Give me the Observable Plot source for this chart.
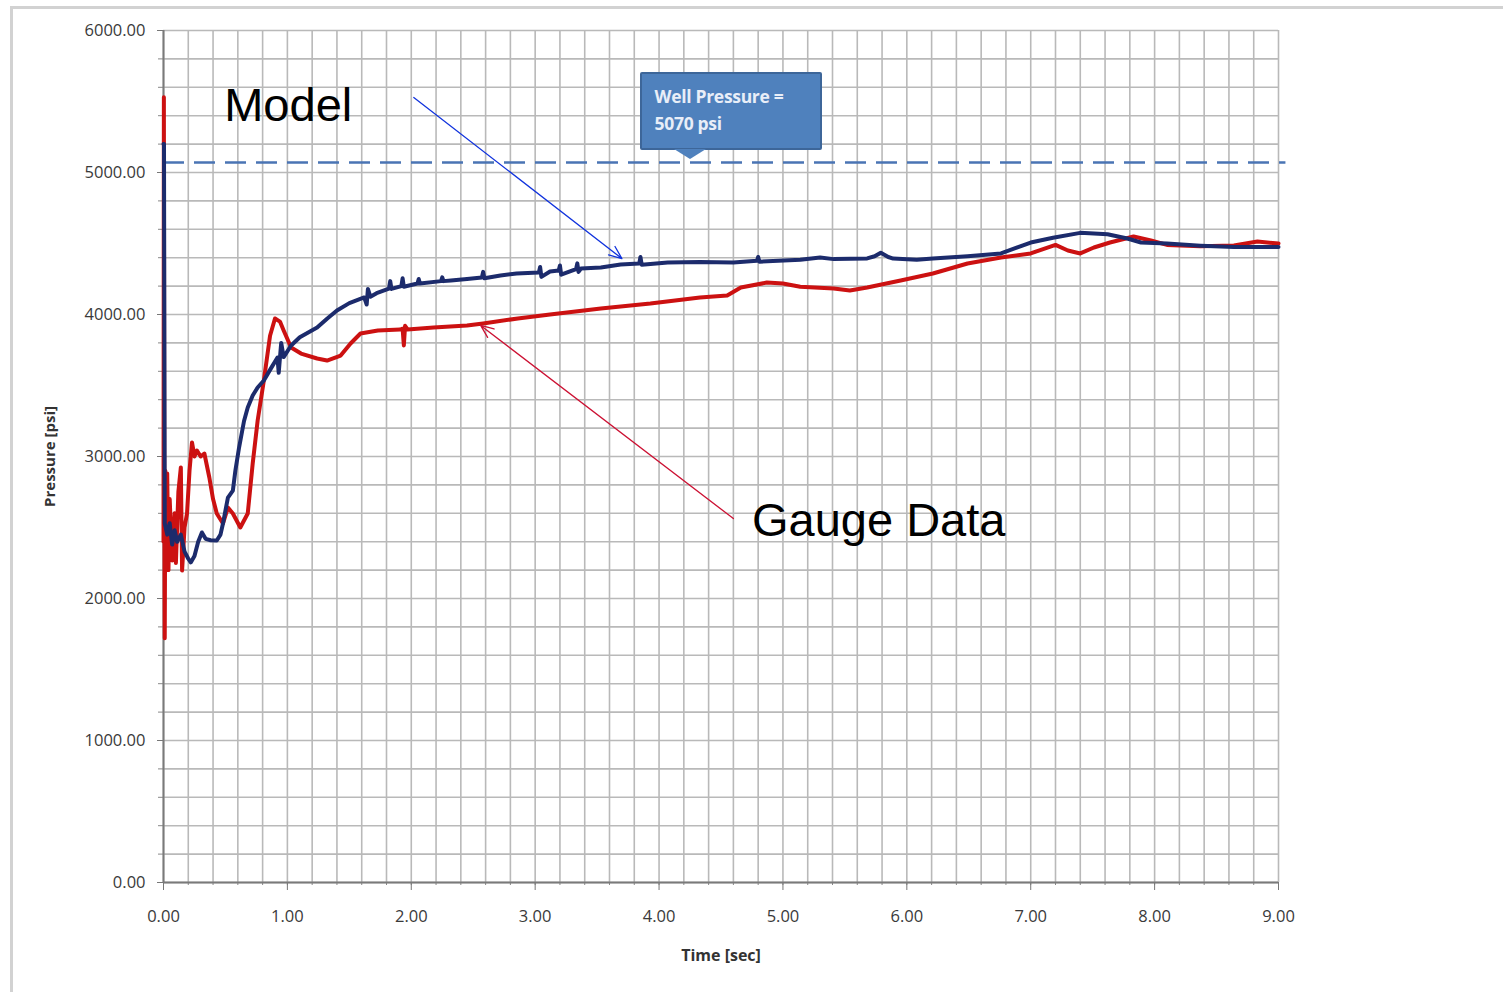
<!DOCTYPE html>
<html>
<head>
<meta charset="utf-8">
<script src="https://cdn.jsdelivr.net/npm/d3@7"></script>
<script src="https://cdn.jsdelivr.net/npm/@observablehq/plot@0.6"></script>
<style>
  html, body { margin: 0; padding: 0; background: #fff; overflow: hidden; }
  #wrap { position: relative; width: 1503px; height: 992px; }
  #frame { position: absolute; left: 10px; top: 6px; width: 1600px; height: 1100px;
           border-top: 3px solid #d2d2d2; border-left: 3px solid #d2d2d2; pointer-events: none; }
  #callout { position: absolute; box-sizing: border-box; background: #4f81bd; border: 2px solid #3d6699;
             border-radius: 2px; color: #e8eef8; font-family: "Open Sans", sans-serif; font-weight: 700;
             font-size: 17.5px; line-height: 27px; padding: 9px 0 0 13px; letter-spacing: -0.3px; }
  #pointer { position: absolute; width: 0; height: 0; border-left: 16px solid transparent;
             border-right: 16px solid transparent; border-top: 10px solid #4f81bd; }
</style>
</head>
<body>
<div id="wrap"><div id="frame"></div></div>
<script>
// ---------- data ----------
const xTickValues = [0, 1, 2, 3, 4, 5, 6, 7, 8, 9];
const yTickValues = [0, 1000, 2000, 3000, 4000, 5000, 6000];
const xAxisLabel = "Time [sec]";
const yAxisLabel = "Pressure [psi]";
const wellPressure = 5070;
const calloutLines = ["Well Pressure =", "5070 psi"];

// Model series (time s, pressure psi)
const modelTime = [0, 0.004, 0.01, 0.03, 0.05, 0.07, 0.09, 0.11, 0.14, 0.17, 0.2, 0.22, 0.25, 0.28, 0.31, 0.34, 0.38, 0.43, 0.46, 0.48, 0.52, 0.56, 0.58, 0.61, 0.65, 0.68, 0.72, 0.76, 0.81, 0.86, 0.92, 0.93, 0.95, 0.97, 1.03, 1.1, 1.24, 1.32, 1.4, 1.5, 1.62, 1.64, 1.65, 1.67, 1.72, 1.82, 1.83, 1.84, 1.92, 1.93, 1.94, 2.05, 2.06, 2.07, 2.24, 2.25, 2.26, 2.32, 2.45, 2.57, 2.58, 2.59, 2.72, 2.85, 3.03, 3.04, 3.05, 3.12, 3.19, 3.2, 3.21, 3.33, 3.34, 3.35, 3.37, 3.53, 3.69, 3.84, 3.85, 3.86, 4.07, 4.33, 4.6, 4.79, 4.8, 4.81, 5.14, 5.3, 5.41, 5.68, 5.74, 5.79, 5.85, 5.89, 6.08, 6.21, 6.49, 6.76, 7.0, 7.18, 7.4, 7.62, 7.78, 7.89, 8.1, 8.37, 8.64, 9.0];
const modelPressure = [5200, 5200, 2530, 2450, 2530, 2380, 2480, 2400, 2450, 2330, 2280, 2254, 2300, 2400, 2465, 2420, 2410, 2408, 2450, 2528, 2711, 2760, 2900, 3063, 3250, 3345, 3430, 3486, 3535, 3610, 3697, 3590, 3800, 3700, 3782, 3840, 3908, 3970, 4028, 4080, 4120, 4070, 4180, 4125, 4150, 4183, 4235, 4180, 4200, 4255, 4195, 4218, 4250, 4218, 4235, 4262, 4235, 4239, 4250, 4261, 4300, 4255, 4275, 4289, 4296, 4335, 4265, 4303, 4310, 4345, 4280, 4320, 4360, 4300, 4324, 4331, 4352, 4359, 4405, 4350, 4366, 4370, 4366, 4378, 4405, 4372, 4385, 4401, 4390, 4395, 4410, 4435, 4405, 4394, 4385, 4394, 4410, 4430, 4507, 4540, 4575, 4565, 4535, 4507, 4500, 4485, 4475, 4475];

// Gauge data series (time s, pressure psi)
const gaugeTime = [0, 0.003, 0.006, 0.01, 0.015, 0.02, 0.03, 0.04, 0.05, 0.07, 0.09, 0.1, 0.12, 0.14, 0.15, 0.17, 0.19, 0.21, 0.23, 0.25, 0.27, 0.3, 0.33, 0.37, 0.4, 0.43, 0.48, 0.52, 0.56, 0.62, 0.68, 0.72, 0.76, 0.81, 0.86, 0.9, 0.94, 0.97, 1.03, 1.11, 1.24, 1.32, 1.43, 1.51, 1.59, 1.73, 1.91, 1.93, 1.94, 1.95, 1.97, 2.18, 2.45, 2.58, 2.86, 3.12, 3.53, 3.93, 4.33, 4.55, 4.66, 4.87, 5.0, 5.14, 5.41, 5.54, 5.68, 5.95, 6.21, 6.49, 6.76, 7.0, 7.2, 7.3, 7.4, 7.51, 7.64, 7.83, 7.97, 8.1, 8.37, 8.64, 8.83, 9.0];
const gaugePressure = [2400, 5530, 3000, 1720, 2900, 2350, 2880, 2200, 2700, 2268, 2600, 2250, 2750, 2923, 2197, 2500, 2599, 2900, 3099, 3000, 3042, 3000, 3021, 2852, 2700, 2599, 2528, 2640, 2599, 2500, 2599, 2951, 3254, 3535, 3850, 3972, 3950, 3887, 3768, 3725, 3690, 3676, 3711, 3796, 3866, 3887, 3894, 3900, 3782, 3920, 3895, 3908, 3922, 3937, 3972, 4000, 4042, 4077, 4120, 4134, 4190, 4225, 4218, 4195, 4183, 4169, 4190, 4239, 4289, 4359, 4401, 4430, 4490, 4451, 4430, 4472, 4507, 4549, 4521, 4490, 4480, 4486, 4514, 4500];

// Annotation labels and arrows (data units)
const labelText = ["Model", "Gauge Data"];
const labelTime = [0.49, 4.75];
const labelPressure = [5470, 2545];
const arrowFromTime = [2.02, 4.6];
const arrowFromPressure = [5528, 2563];
const arrowToTime = [3.7, 2.56];
const arrowToPressure = [4394, 3923];
const arrowColor = ["#1133dd", "#cc1133"];
const calloutTime = 4.25;

// ---------- build ----------
const model = modelTime.map((t, i) => ({t, p: modelPressure[i]}));
const gauge = gaugeTime.map((t, i) => ({t, p: gaugePressure[i]}));
const labels = labelText.map((text, i) => ({text, t: labelTime[i], p: labelPressure[i]}));
const arrows = arrowFromTime.map((t1, i) => ({t1, p1: arrowFromPressure[i], t2: arrowToTime[i], p2: arrowToPressure[i], c: arrowColor[i]}));
const xMinor = d3.range(0, 46).map(i => i / 5);
const yMinor = d3.range(0, 31).map(i => i * 200);

const chart = Plot.plot({
  width: 1503,
  height: 992,
  marginLeft: 163,
  marginRight: 225,
  marginTop: 30,
  marginBottom: 110,
  x: {domain: [0, 9]},
  y: {domain: [0, 6000]},
  style: {fontFamily: "'Open Sans', sans-serif", background: "transparent", overflow: "visible"},
  marks: [
    Plot.gridX(xMinor, {stroke: "#b9b9b9", strokeOpacity: 1, strokeWidth: 1.6}),
    Plot.gridY(yMinor, {stroke: "#b9b9b9", strokeOpacity: 1, strokeWidth: 1.6}),
    Plot.axisY(yMinor, {tickSize: 5, tickFormat: () => "", label: null, stroke: "#888"}),
    Plot.axisX(xMinor, {tickSize: 3, tickFormat: () => "", label: null, stroke: "#888"}),
    Plot.axisY(yTickValues, {tickSize: 6, tickPadding: 12, tickFormat: d => d.toFixed(2), fontSize: 16.5, fill: "#3a3a3a", stroke: "#777", label: null, style: {letterSpacing: "0.6px"}}),
    Plot.axisX(xTickValues, {tickSize: 8, tickPadding: 20, tickFormat: d => d.toFixed(2), fontSize: 16.5, fill: "#3a3a3a", stroke: "#777", label: null, style: {letterSpacing: "0.6px"}}),
    Plot.ruleX([0], {stroke: "#7a7a7a", strokeWidth: 2}),
    Plot.ruleY([0], {stroke: "#7a7a7a", strokeWidth: 2}),
    Plot.ruleY([wellPressure], {x1: 0, x2: 9.06, stroke: "#4a74b4", strokeWidth: 2.6, strokeDasharray: "21,10", clip: false}),
    Plot.line(gauge, {x: "t", y: "p", stroke: "#cc1111", strokeWidth: 4, strokeLinejoin: "round"}),
    Plot.line(model, {x: "t", y: "p", stroke: "#1c2b6c", strokeWidth: 4, strokeLinejoin: "round"}),
    Plot.arrow(arrows, {x1: "t1", y1: "p1", x2: "t2", y2: "p2", stroke: "c", strokeWidth: 1.3, headLength: 16, headAngle: 45, bend: 0}),
    Plot.text(labels, {x: "t", y: "p", text: "text", textAnchor: "start", lineAnchor: "middle", fontSize: 47, fontFamily: "'Liberation Sans', Arial, sans-serif", fill: "#000"}),
    Plot.text([xAxisLabel], {frameAnchor: "bottom", dy: 73, lineAnchor: "middle", textAnchor: "middle", fontSize: 16, fontWeight: "bold", fill: "#333"}),
    Plot.text([yAxisLabel], {frameAnchor: "left", dx: -113, rotate: -90, textAnchor: "middle", lineAnchor: "middle", fontSize: 15, fontWeight: "bold", fill: "#333"})
  ]
});

const wrap = document.getElementById("wrap");
chart.style.position = "absolute";
chart.style.left = "0px";
chart.style.top = "0px";
wrap.appendChild(chart);

// callout anchored on the well-pressure line through the plot's scales
const sx = chart.scale("x"), sy = chart.scale("y");
const tipX = sx.apply(calloutTime), tipY = sy.apply(wellPressure);
const box = document.createElement("div");
box.id = "callout";
const bw = 182, bh = 78;
const bl = tipX - 50, bt = tipY - 90;
Object.assign(box.style, {left: bl + "px", top: bt + "px", width: bw + "px", height: bh + "px"});
box.innerHTML = calloutLines.map(s => `<div>${s}</div>`).join("");
wrap.appendChild(box);
const ptr = document.createElement("div");
ptr.id = "pointer";
Object.assign(ptr.style, {left: (tipX - 16) + "px", top: (bt + bh - 1) + "px"});
wrap.appendChild(ptr);
</script>
</body>
</html>
